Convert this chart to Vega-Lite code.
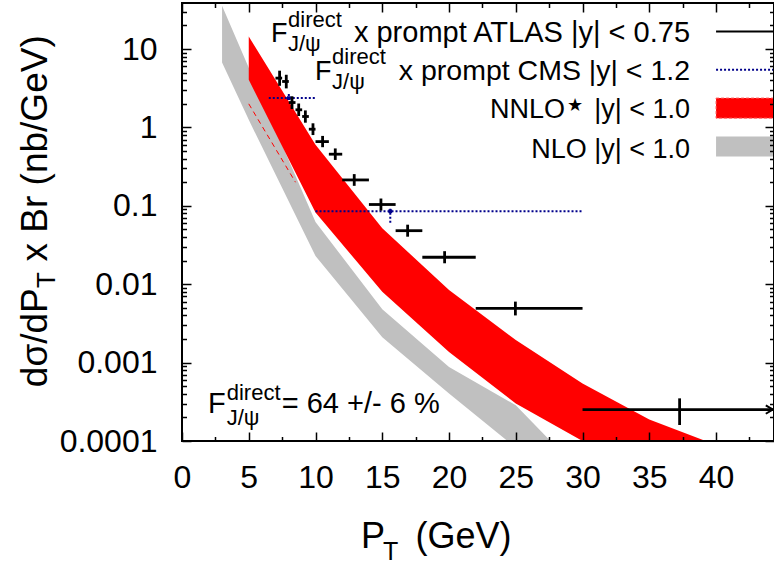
{
  "$schema": "https://vega.github.io/schema/vega-lite/v6.json",
  "width": 592,
  "height": 438,
  "autosize": "none",
  "padding": {"left": 182, "top": 3, "right": 0, "bottom": 123},
  "background": "white",
  "view": {"stroke": null},
  "config": {
    "view": {"stroke": null},
    "text": {"font": "Liberation Sans", "color": "black"}
  },
  "data": {"values": [{}]},
  "datasets": {
    "nlo": [
      {"pt": 3, "lo": 6.74, "hi": 35.7},
      {"pt": 5, "lo": 1.25, "hi": 5.77},
      {"pt": 10, "lo": 0.0229, "hi": 0.0622},
      {"pt": 15, "lo": 0.0021, "hi": 0.0048},
      {"pt": 20, "lo": 0.000405, "hi": 0.00088},
      {"pt": 25, "lo": 0.000082, "hi": 0.000286},
      {"pt": 30, "lo": 0.000017, "hi": 0.000038}
    ],
    "nnlo": [
      {"pt": 5, "lo": 4.05, "hi": 14.5},
      {"pt": 10, "lo": 0.0824, "hi": 0.6},
      {"pt": 15, "lo": 0.008, "hi": 0.0518},
      {"pt": 20, "lo": 0.00137, "hi": 0.00843},
      {"pt": 25, "lo": 0.000301, "hi": 0.00194},
      {"pt": 30, "lo": 0.0001, "hi": 0.000542},
      {"pt": 35, "lo": 0.000042, "hi": 0.000188},
      {"pt": 40, "lo": 0.00002, "hi": 0.000089}
    ],
    "dash": [
      {"pt": 5, "y": 2.0},
      {"pt": 8.5, "y": 0.2}
    ],
    "atlas": [
      {"pt": 7.31, "ptlo": 7.0, "pthi": 7.5, "y": 4.26, "ylo": 3.4, "yhi": 5.3},
      {"pt": 7.81, "ptlo": 7.5, "pthi": 8.0, "y": 3.86, "ylo": 3.15, "yhi": 4.7},
      {"pt": 8.24, "ptlo": 8.0, "pthi": 8.5, "y": 2.08, "ylo": 1.72, "yhi": 2.5},
      {"pt": 8.74, "ptlo": 8.5, "pthi": 9.0, "y": 1.68, "ylo": 1.4, "yhi": 2.02},
      {"pt": 9.24, "ptlo": 9.0, "pthi": 9.5, "y": 1.38, "ylo": 1.15, "yhi": 1.65},
      {"pt": 9.81, "ptlo": 9.5, "pthi": 10.0, "y": 0.95, "ylo": 0.8, "yhi": 1.13},
      {"pt": 10.53, "ptlo": 10, "pthi": 11, "y": 0.66, "ylo": 0.56, "yhi": 0.78},
      {"pt": 11.48, "ptlo": 11, "pthi": 12, "y": 0.456, "ylo": 0.385, "yhi": 0.54},
      {"pt": 12.9, "ptlo": 12, "pthi": 14, "y": 0.214, "ylo": 0.18, "yhi": 0.254},
      {"pt": 14.9, "ptlo": 14, "pthi": 16, "y": 0.104, "ylo": 0.087, "yhi": 0.124},
      {"pt": 16.9, "ptlo": 16, "pthi": 18, "y": 0.0482, "ylo": 0.0404, "yhi": 0.0575},
      {"pt": 19.67, "ptlo": 18, "pthi": 22, "y": 0.0221, "ylo": 0.0185, "yhi": 0.0264},
      {"pt": 24.97, "ptlo": 22, "pthi": 30, "y": 0.00492, "ylo": 0.004, "yhi": 0.006},
      {"pt": 37.27, "ptlo": 30, "pthi": 70, "y": 0.000252, "ylo": 0.00016, "yhi": 0.00035}
    ],
    "cms": [
      {"pt": 8.0, "ptlo": 6.5, "pthi": 10.0, "y": 2.37, "ylo": 2.24, "yhi": 2.74},
      {"pt": 15.6, "ptlo": 10.0, "pthi": 30.0, "y": 0.0853, "ylo": 0.061, "yhi": 0.093}
    ]
  },
  "resolve": {"axis": {"x": "independent", "y": "independent"}},
  "layer": [
    {
      "data": {"name": "nlo"},
      "mark": {"type": "area", "color": "#c0c0c0", "clip": true, "opacity": 1},
      "encoding": {
        "x": {
          "field": "pt", "type": "quantitative",
          "scale": {"type": "linear", "domain": [0, 44.34], "nice": false, "zero": false},
          "axis": {
            "orient": "bottom", "title": null, "domain": false, "grid": false, "zindex": 1, "offset": -9,
            "values": [0, 2.5, 5, 7.5, 10, 12.5, 15, 17.5, 20, 22.5, 25, 27.5, 30, 32.5, 35, 37.5, 40, 42.5],
            "labelExpr": "datum.value % 5 === 0 ? format(datum.value, 'd') : ''",
            "tickSize": 9,
            "tickDash": {"condition": {"test": "datum.value % 5 === 0", "value": []}, "value": [0, 4.5, 4.5]},
            "tickWidth": 1.5, "tickColor": "black",
            "labelFont": "Liberation Sans", "labelFontSize": 32, "labelColor": "black",
            "labelPadding": 21, "labelFlush": false, "labelOverlap": false, "labelBound": false
          }
        },
        "y": {
          "field": "lo", "type": "quantitative",
          "scale": {"type": "log", "domain": [0.0001, 38.7], "nice": false},
          "axis": {
            "orient": "left", "title": null, "domain": false, "grid": false, "zindex": 1, "offset": -9,
            "values": [0.0001, 0.0002, 0.0003, 0.0004, 0.0005, 0.0006, 0.0007, 0.0008, 0.0009, 0.001, 0.002, 0.003, 0.004, 0.005, 0.006, 0.007, 0.008, 0.009, 0.01, 0.02, 0.03, 0.04, 0.05, 0.06, 0.07, 0.08, 0.09, 0.1, 0.2, 0.3, 0.4, 0.5, 0.6, 0.7, 0.8, 0.9, 1, 2, 3, 4, 5, 6, 7, 8, 9, 10, 20, 30],
            "labelExpr": "abs(log(datum.value)/LN10 - round(log(datum.value)/LN10)) < 0.01 ? format(datum.value, '~g') : ''",
            "tickSize": 9,
            "tickDash": {"condition": {"test": "abs(log(datum.value)/LN10 - round(log(datum.value)/LN10)) < 0.01", "value": []}, "value": [0, 4.5, 4.5]},
            "tickWidth": 1.5, "tickColor": "black",
            "labelFont": "Liberation Sans", "labelFontSize": 32, "labelColor": "black",
            "labelPadding": 25, "labelFlush": false, "labelOverlap": false, "labelBound": false
          }
        },
        "y2": {"field": "hi"}
      }
    },
    {
      "data": {"name": "nlo"},
      "mark": {"type": "point", "opacity": 0},
      "encoding": {
        "x": {
          "field": "pt", "type": "quantitative",
          "axis": {
            "orient": "top", "title": null, "domain": false, "grid": false, "labels": false, "zindex": 1, "offset": -9,
            "values": [0, 2.5, 5, 7.5, 10, 12.5, 15, 17.5, 20, 22.5, 25, 27.5, 30, 32.5, 35, 37.5, 40, 42.5],
            "tickSize": 9,
            "tickDash": {"condition": {"test": "datum.value % 5 === 0", "value": []}, "value": [0, 4.5, 4.5]},
            "tickWidth": 1.5, "tickColor": "black"
          }
        },
        "y": {
          "field": "lo", "type": "quantitative",
          "axis": {
            "orient": "right", "title": null, "domain": false, "grid": false, "labels": false, "zindex": 1, "offset": -9,
            "values": [0.0001, 0.0002, 0.0003, 0.0004, 0.0005, 0.0006, 0.0007, 0.0008, 0.0009, 0.001, 0.002, 0.003, 0.004, 0.005, 0.006, 0.007, 0.008, 0.009, 0.01, 0.02, 0.03, 0.04, 0.05, 0.06, 0.07, 0.08, 0.09, 0.1, 0.2, 0.3, 0.4, 0.5, 0.6, 0.7, 0.8, 0.9, 1, 2, 3, 4, 5, 6, 7, 8, 9, 10, 20, 30],
            "tickSize": 9,
            "tickDash": {"condition": {"test": "abs(log(datum.value)/LN10 - round(log(datum.value)/LN10)) < 0.01", "value": []}, "value": [0, 4.5, 4.5]},
            "tickWidth": 1.5, "tickColor": "black"
          }
        }
      }
    },
    {
      "data": {"name": "nnlo"},
      "mark": {"type": "area", "color": "#ff0000", "clip": true, "opacity": 1},
      "encoding": {
        "x": {"field": "pt", "type": "quantitative", "axis": null},
        "y": {"field": "lo", "type": "quantitative", "axis": null},
        "y2": {"field": "hi"}
      }
    },
    {
      "data": {"name": "dash"},
      "mark": {"type": "line", "color": "#ff0000", "strokeWidth": 1, "strokeDash": [5, 4], "clip": true},
      "encoding": {
        "x": {"field": "pt", "type": "quantitative", "axis": null},
        "y": {"field": "y", "type": "quantitative", "axis": null}
      }
    },
    {
      "data": {"name": "cms"},
      "mark": {"type": "rule", "color": "#00008b", "strokeWidth": 2, "strokeDash": [2, 2], "clip": true},
      "encoding": {
        "x": {"field": "ptlo", "type": "quantitative", "axis": null},
        "x2": {"field": "pthi"},
        "y": {"field": "y", "type": "quantitative", "axis": null}
      }
    },
    {
      "data": {"name": "cms"},
      "mark": {"type": "rule", "color": "#00008b", "strokeWidth": 2, "strokeDash": [2, 2], "clip": true},
      "encoding": {
        "x": {"field": "pt", "type": "quantitative", "axis": null},
        "y": {"field": "ylo", "type": "quantitative", "axis": null},
        "y2": {"field": "yhi"}
      }
    },
    {
      "data": {"name": "cms"},
      "mark": {"type": "point", "shape": "square", "filled": true, "color": "#00008b", "size": 14, "opacity": 1},
      "encoding": {
        "x": {"field": "pt", "type": "quantitative", "axis": null},
        "y": {"field": "y", "type": "quantitative", "axis": null}
      }
    },
    {
      "data": {"name": "atlas"},
      "mark": {"type": "rule", "color": "black", "strokeWidth": 2.8, "clip": true},
      "encoding": {
        "x": {"field": "ptlo", "type": "quantitative", "axis": null},
        "x2": {"field": "pthi"},
        "y": {"field": "y", "type": "quantitative", "axis": null}
      }
    },
    {
      "data": {"name": "atlas"},
      "mark": {"type": "rule", "color": "black", "strokeWidth": 2.8, "clip": true},
      "encoding": {
        "x": {"field": "pt", "type": "quantitative", "axis": null},
        "y": {"field": "ylo", "type": "quantitative", "axis": null},
        "y2": {"field": "yhi"}
      }
    },
    {
      "mark": {"type": "point", "shape": "M -1 -0.6 L 0 0 L -1 0.6", "filled": false, "color": "black", "strokeWidth": 2, "size": 196, "opacity": 1},
      "encoding": {
        "x": {"datum": 44.25, "type": "quantitative", "axis": null},
        "y": {"datum": 0.000252, "type": "quantitative", "axis": null}
      }
    },
    {
      "mark": {"type": "rule", "color": "black", "strokeWidth": 2},
      "encoding": {
        "x": {"datum": 40.0, "type": "quantitative", "axis": null},
        "x2": {"datum": 44.34},
        "y": {"datum": 16.78, "type": "quantitative", "axis": null}
      }
    },
    {
      "mark": {"type": "rule", "color": "#00008b", "strokeWidth": 2, "strokeDash": [2, 2]},
      "encoding": {
        "x": {"datum": 40.0, "type": "quantitative", "axis": null},
        "x2": {"datum": 44.34},
        "y": {"datum": 5.44, "type": "quantitative", "axis": null}
      }
    },
    {
      "mark": {"type": "rect", "fill": "#ff0000", "stroke": "#ff6060", "strokeWidth": 1, "strokeDash": [3, 2]},
      "encoding": {
        "x": {"datum": 40.0, "type": "quantitative", "axis": null},
        "x2": {"datum": 44.34},
        "y": {"datum": 2.37, "type": "quantitative", "axis": null},
        "y2": {"datum": 1.315}
      }
    },
    {
      "mark": {"type": "rect", "fill": "#c0c0c0"},
      "encoding": {
        "x": {"datum": 40.0, "type": "quantitative", "axis": null},
        "x2": {"datum": 44.34},
        "y": {"datum": 0.765, "type": "quantitative", "axis": null},
        "y2": {"datum": 0.425}
      }
    },
    {
      "mark": {"type": "text", "text": "F", "align": "left", "baseline": "alphabetic", "fontSize": 27},
      "encoding": {"x": {"datum": 6.67, "type": "quantitative", "axis": null}, "y": {"datum": 12.4, "type": "quantitative", "axis": null}}
    },
    {
      "mark": {"type": "text", "text": "direct", "align": "left", "baseline": "alphabetic", "fontSize": 22},
      "encoding": {"x": {"datum": 7.94, "type": "quantitative", "axis": null}, "y": {"datum": 19.27, "type": "quantitative", "axis": null}}
    },
    {
      "mark": {"type": "text", "text": "J/ψ", "align": "left", "baseline": "alphabetic", "fontSize": 22},
      "encoding": {"x": {"datum": 7.94, "type": "quantitative", "axis": null}, "y": {"datum": 9.51, "type": "quantitative", "axis": null}}
    },
    {
      "mark": {"type": "text", "text": "x prompt ATLAS |y| < 0.75", "align": "right", "baseline": "alphabetic", "fontSize": 29},
      "encoding": {"x": {"datum": 38.05, "type": "quantitative", "axis": null}, "y": {"datum": 12.4, "type": "quantitative", "axis": null}}
    },
    {
      "mark": {"type": "text", "text": "F", "align": "left", "baseline": "alphabetic", "fontSize": 27},
      "encoding": {"x": {"datum": 9.96, "type": "quantitative", "axis": null}, "y": {"datum": 4.055, "type": "quantitative", "axis": null}}
    },
    {
      "mark": {"type": "text", "text": "direct", "align": "left", "baseline": "alphabetic", "fontSize": 22},
      "encoding": {"x": {"datum": 11.24, "type": "quantitative", "axis": null}, "y": {"datum": 6.49, "type": "quantitative", "axis": null}}
    },
    {
      "mark": {"type": "text", "text": "J/ψ", "align": "left", "baseline": "alphabetic", "fontSize": 22},
      "encoding": {"x": {"datum": 11.24, "type": "quantitative", "axis": null}, "y": {"datum": 3.112, "type": "quantitative", "axis": null}}
    },
    {
      "mark": {"type": "text", "text": "x prompt CMS |y| < 1.2", "align": "right", "baseline": "alphabetic", "fontSize": 28.5},
      "encoding": {"x": {"datum": 38.05, "type": "quantitative", "axis": null}, "y": {"datum": 4.055, "type": "quantitative", "axis": null}}
    },
    {
      "mark": {"type": "text", "text": "NNLO", "align": "right", "baseline": "alphabetic", "fontSize": 27},
      "encoding": {"x": {"datum": 28.69, "type": "quantitative", "axis": null}, "y": {"datum": 1.326, "type": "quantitative", "axis": null}}
    },
    {
      "mark": {"type": "text", "text": "★", "align": "left", "baseline": "alphabetic", "fontSize": 18, "font": "DejaVu Sans"},
      "encoding": {"x": {"datum": 28.84, "type": "quantitative", "axis": null}, "y": {"datum": 1.63, "type": "quantitative", "axis": null}}
    },
    {
      "mark": {"type": "text", "text": "|y| < 1.0", "align": "right", "baseline": "alphabetic", "fontSize": 27},
      "encoding": {"x": {"datum": 38.05, "type": "quantitative", "axis": null}, "y": {"datum": 1.326, "type": "quantitative", "axis": null}}
    },
    {
      "mark": {"type": "text", "text": "NLO |y| < 1.0", "align": "right", "baseline": "alphabetic", "fontSize": 27},
      "encoding": {"x": {"datum": 38.05, "type": "quantitative", "axis": null}, "y": {"datum": 0.409, "type": "quantitative", "axis": null}}
    },
    {
      "mark": {"type": "text", "text": "F", "align": "left", "baseline": "alphabetic", "fontSize": 29},
      "encoding": {"x": {"datum": 1.95, "type": "quantitative", "axis": null}, "y": {"datum": 0.000226, "type": "quantitative", "axis": null}}
    },
    {
      "mark": {"type": "text", "text": "direct", "align": "left", "baseline": "alphabetic", "fontSize": 22},
      "encoding": {"x": {"datum": 3.35, "type": "quantitative", "axis": null}, "y": {"datum": 0.000332, "type": "quantitative", "axis": null}}
    },
    {
      "mark": {"type": "text", "text": "J/ψ", "align": "left", "baseline": "alphabetic", "fontSize": 22},
      "encoding": {"x": {"datum": 3.35, "type": "quantitative", "axis": null}, "y": {"datum": 0.000159, "type": "quantitative", "axis": null}}
    },
    {
      "mark": {"type": "text", "text": "= 64 +/- 6 %", "align": "left", "baseline": "alphabetic", "fontSize": 29},
      "encoding": {"x": {"datum": 7.47, "type": "quantitative", "axis": null}, "y": {"datum": 0.000226, "type": "quantitative", "axis": null}}
    },
    {
      "mark": {"type": "text", "text": "P", "align": "left", "baseline": "alphabetic", "fontSize": 36},
      "encoding": {"x": {"datum": 13.41, "type": "quantitative", "axis": null}, "y": {"datum": 0.00000428, "type": "quantitative", "axis": null}}
    },
    {
      "mark": {"type": "text", "text": "T", "align": "left", "baseline": "alphabetic", "fontSize": 25},
      "encoding": {"x": {"datum": 15.06, "type": "quantitative", "axis": null}, "y": {"datum": 0.00000305, "type": "quantitative", "axis": null}}
    },
    {
      "mark": {"type": "text", "text": "(GeV)", "align": "left", "baseline": "alphabetic", "fontSize": 36},
      "encoding": {"x": {"datum": 17.49, "type": "quantitative", "axis": null}, "y": {"datum": 0.00000428, "type": "quantitative", "axis": null}}
    },
    {
      "mark": {"type": "text", "text": "dσ/dP", "align": "left", "baseline": "alphabetic", "fontSize": 37, "angle": 270},
      "encoding": {"x": {"datum": -10.11, "type": "quantitative", "axis": null}, "y": {"datum": 0.000486, "type": "quantitative", "axis": null}}
    },
    {
      "mark": {"type": "text", "text": "T", "align": "left", "baseline": "alphabetic", "fontSize": 26, "angle": 270},
      "encoding": {"x": {"datum": -9.51, "type": "quantitative", "axis": null}, "y": {"datum": 0.00895, "type": "quantitative", "axis": null}}
    },
    {
      "mark": {"type": "text", "text": "x Br (nb/GeV)", "align": "right", "baseline": "alphabetic", "fontSize": 37, "angle": 270},
      "encoding": {"x": {"datum": -10.11, "type": "quantitative", "axis": null}, "y": {"datum": 15.0, "type": "quantitative", "axis": null}}
    },
    {
      "mark": {"type": "rect", "filled": false, "color": "black", "strokeWidth": 2},
      "encoding": {
        "x": {"datum": 0, "type": "quantitative", "axis": null},
        "x2": {"datum": 44.34},
        "y": {"datum": 0.0001, "type": "quantitative", "axis": null},
        "y2": {"datum": 38.7}
      }
    }
  ]
}
